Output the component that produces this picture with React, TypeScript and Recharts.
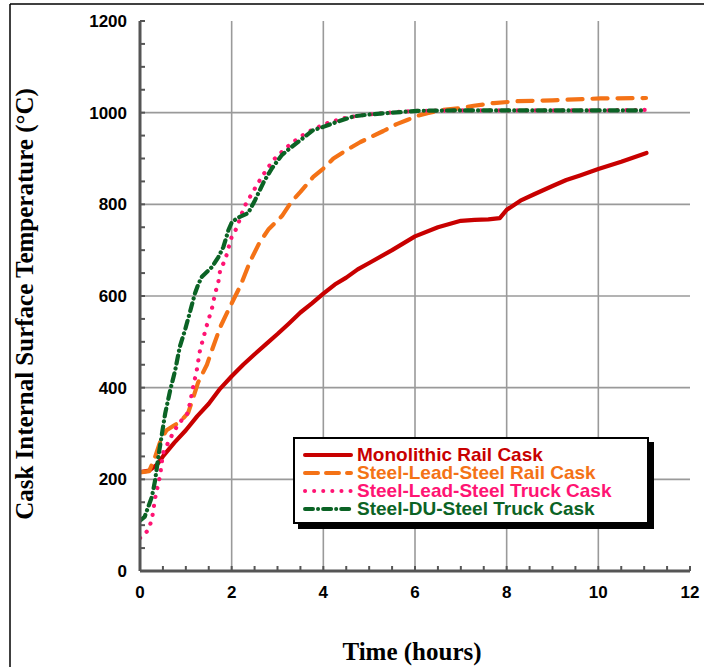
import React from 'react';
import { LineChart, Line, XAxis, YAxis, CartesianGrid, Legend } from 'recharts';

// ---- data ----
const monoHours = [0, 0.2, 0.37, 0.5, 0.75, 1.0, 1.25, 1.5, 1.75, 2.0, 2.25, 2.5, 2.75, 3.0, 3.25, 3.5, 3.75, 4.0, 4.25, 4.5, 4.75, 5.0, 5.5, 6.0, 6.5, 7.0, 7.3, 7.6, 7.85, 8.0, 8.3, 8.6, 9.0, 9.3, 9.6, 10.0, 10.5, 11.05];
const monoTemps = [216, 219, 232, 250, 280, 307, 338, 365, 398, 425, 450, 473, 495, 517, 540, 564, 584, 605, 625, 640, 658, 672, 700, 730, 750, 764, 766, 767, 770, 788, 808, 822, 840, 853, 863, 877, 893, 912];

const slsRailHours = [0, 0.2, 0.33, 0.45, 0.58, 0.75, 0.87, 1.05, 1.15, 1.27, 1.46, 1.57, 1.75, 1.97, 2.19, 2.4, 2.6, 2.8, 3.1, 3.3, 3.5, 3.78, 4.0, 4.22, 4.5, 4.81, 5.0, 5.31, 5.6, 5.83, 6.05, 6.27, 6.62, 7.0, 7.28, 7.72, 8.24, 9.0, 10.05, 11.04];
const slsRailTemps = [215, 218, 249, 285, 307, 318, 325, 345, 375, 412, 450, 482, 532, 578, 622, 675, 715, 745, 775, 805, 827, 860, 878, 900, 918, 936, 945, 960, 975, 984, 993, 999, 1006, 1010, 1015, 1021, 1025, 1027, 1031, 1032];

const slsTruckHours = [0, 0.18, 0.26, 0.33, 0.44, 0.5, 0.61, 0.73, 0.87, 1.02, 1.09, 1.16, 1.24, 1.31, 1.46, 1.57, 1.64, 1.71, 1.75, 1.86, 1.93, 2.0, 2.12, 2.19, 2.3, 2.45, 2.58, 2.73, 2.91, 3.13, 3.34, 3.61, 3.83, 4.09, 4.4, 4.8, 5.3, 5.7, 6.05, 7.0, 8.0, 9.0, 10.0, 11.04];
const slsTruckTemps = [72, 89, 113, 159, 209, 257, 279, 303, 325, 340, 366, 402, 439, 482, 537, 573, 606, 631, 657, 679, 705, 729, 750, 772, 799, 825, 847, 871, 897, 918, 936, 955, 966, 977, 987, 994, 999, 1002, 1004, 1005, 1005, 1005, 1005, 1006];

const duTruckHours = [0, 0.1, 0.18, 0.26, 0.33, 0.4, 0.48, 0.55, 0.66, 0.77, 0.87, 0.98, 1.09, 1.2, 1.27, 1.35, 1.57, 1.71, 1.82, 1.93, 2.0, 2.12, 2.36, 2.51, 2.69, 2.88, 3.1, 3.28, 3.5, 3.78, 4.0, 4.3, 4.66, 5.0, 5.5, 6.05, 7.0, 8.0, 9.0, 10.0, 11.04];
const duTruckTemps = [110, 118, 140, 162, 198, 249, 300, 344, 395, 439, 490, 525, 565, 606, 625, 642, 663, 685, 707, 744, 760, 770, 781, 809, 847, 879, 908, 923, 940, 962, 969, 980, 992, 996, 1000, 1004, 1005, 1005, 1005, 1005, 1005];

const seriesNames = ['Monolithic Rail Cask', 'Steel-Lead-Steel Rail Cask', 'Steel-Lead-Steel Truck Cask', 'Steel-DU-Steel Truck Cask'];

const xTicks = [0, 0.5, 1, 1.5, 2, 2.5, 3, 3.5, 4, 4.5, 5, 5.5, 6, 6.5, 7, 7.5, 8, 8.5, 9, 9.5, 10, 10.5, 11, 11.5, 12];
const xGrid = [2, 4, 6, 8, 10];
const yTicks = [0, 50, 100, 150, 200, 250, 300, 350, 400, 450, 500, 550, 600, 650, 700, 750, 800, 850, 900, 950, 1000, 1050, 1100, 1150, 1200];
const yGrid = [200, 400, 600, 800, 1000];

const xTitle = 'Time (hours)';
const yTitle = 'Cask Internal Surface Temperature (°C)';

// ---- styling ----
const toPoints = (h: number[], t: number[]) => h.map((x, i) => ({ hours: x, temp: t[i] }));

// the first series is bound to the top/right axes (same domains) so those frame axes get ticks
const series = [
  { name: seriesNames[0], data: toPoints(monoHours, monoTemps), color: '#C80000', dash: undefined as string | undefined, width: 4.2, xId: 'top', yId: 'right' },
  { name: seriesNames[1], data: toPoints(slsRailHours, slsRailTemps), color: '#F47216', dash: '15 10', width: 4.2, xId: 'main', yId: 'main' },
  { name: seriesNames[2], data: toPoints(slsTruckHours, slsTruckTemps), color: '#FF1473', dash: '0.1 9', width: 4.2, xId: 'main', yId: 'main' },
  { name: seriesNames[3], data: toPoints(duTruckHours, duTruckTemps), color: '#0B6325', dash: '8 5 0.1 5', width: 4.2, xId: 'main', yId: 'main' },
];

const AX = '#555';
const FONT = '"Liberation Sans", Arial, sans-serif';
const TICK_LEN = 5;
const MARGIN = 13;

const legendDash = ['', '13 8', '0.1 9', '8 5 0.1 5'];

const BottomTick = (props: any) => {
  const { x, y, payload } = props;
  const v = payload.value as number;
  const axisY = y - MARGIN;
  return (
    <g>
      <line x1={x} x2={x} y1={axisY} y2={axisY - TICK_LEN} stroke={AX} strokeWidth={2} />
      {v % 2 === 0 && (
        <text x={x} y={y} dy="0.8em" textAnchor="middle" fill="#000" fontSize={17} fontWeight="bold" fontFamily={FONT}>
          {String(v)}
        </text>
      )}
    </g>
  );
};

const TopTick = (props: any) => {
  const { x, y } = props;
  return <line x1={x} x2={x} y1={y} y2={y + TICK_LEN} stroke={AX} strokeWidth={2} />;
};

const LeftTick = (props: any) => {
  const { x, y, payload } = props;
  const v = payload.value as number;
  const axisX = x + MARGIN;
  return (
    <g>
      <line x1={axisX} x2={axisX + TICK_LEN} y1={y} y2={y} stroke={AX} strokeWidth={2} />
      {v % 200 === 0 && (
        <text x={x} y={y} dy="0.35em" textAnchor="end" fill="#000" fontSize={17} fontWeight="bold" fontFamily={FONT}>
          {String(v)}
        </text>
      )}
    </g>
  );
};

const RightTick = (props: any) => {
  const { x, y } = props;
  return <line x1={x} x2={x - TICK_LEN} y1={y} y2={y} stroke={AX} strokeWidth={2} />;
};

const LegendBox = () => (
  <div
    style={{
      background: '#fff',
      border: '2px solid #000',
      boxShadow: '5px 5px 0 #000',
      width: 356,
      height: 87,
      boxSizing: 'border-box',
      padding: '7px 0 0 7px',
      fontFamily: FONT,
      fontWeight: 'bold',
      fontSize: 19,
      textAlign: 'left',
    }}
  >
    {series.map((s, i) => (
      <div key={s.name} style={{ display: 'flex', alignItems: 'center', height: 18, lineHeight: '18px' }}>
        <svg width={52} height={10} style={{ flex: 'none' }}>
          <line x1={3} x2={49} y1={5} y2={5} stroke={s.color} strokeWidth={4} strokeLinecap="round" strokeDasharray={legendDash[i] || undefined} />
        </svg>
        <span style={{ color: s.color, marginLeft: 3, whiteSpace: 'nowrap' }}>{s.name}</span>
      </div>
    ))}
  </div>
);

export default function App() {
  return (
    <div style={{ position: 'absolute', left: 0, top: 0, width: 704, height: 667, background: '#fff' }}>
      <LineChart width={704} height={667} margin={{ top: 21, right: 14, bottom: 66, left: 40 }}>
        <CartesianGrid
          xAxisId="main"
          yAxisId="main"
          stroke="#9a9a9a"
          strokeWidth={1.6}
          horizontalValues={yGrid}
          verticalValues={xGrid}
        />
        <XAxis
          xAxisId="main"
          dataKey="hours"
          type="number"
          domain={[0, 12]}
          ticks={xTicks}
          interval={0}
          allowDataOverflow
          height={30}
          tickSize={0}
          tickMargin={MARGIN}
          tick={<BottomTick />}
          tickLine={false}
          axisLine={{ stroke: AX, strokeWidth: 3 }}
        />
        <XAxis
          xAxisId="top"
          orientation="top"
          dataKey="hours"
          type="number"
          domain={[0, 12]}
          ticks={xTicks}
          interval={0}
          allowDataOverflow
          height={0}
          tickSize={0}
          tickMargin={0}
          tick={<TopTick />}
          tickLine={false}
          axisLine={{ stroke: AX, strokeWidth: 3 }}
        />
        <YAxis
          yAxisId="main"
          type="number"
          domain={[0, 1200]}
          ticks={yTicks}
          interval={0}
          allowDataOverflow
          width={100}
          tickSize={0}
          tickMargin={MARGIN}
          tick={<LeftTick />}
          tickLine={false}
          axisLine={{ stroke: AX, strokeWidth: 3 }}
        />
        <YAxis
          yAxisId="right"
          orientation="right"
          type="number"
          domain={[0, 1200]}
          ticks={yTicks}
          interval={0}
          allowDataOverflow
          width={0}
          tickSize={0}
          tickMargin={0}
          tick={<RightTick />}
          tickLine={false}
          axisLine={{ stroke: AX, strokeWidth: 3 }}
        />
        {series.map((s) => (
          <Line
            key={s.name}
            xAxisId={s.xId}
            yAxisId={s.yId}
            data={s.data}
            dataKey="temp"
            name={s.name}
            type="linear"
            stroke={s.color}
            strokeWidth={s.width}
            strokeDasharray={s.dash}
            strokeLinecap="round"
            strokeLinejoin="round"
            dot={false}
            activeDot={false}
            isAnimationActive={false}
          />
        ))}
        <Legend
          layout="vertical"
          align="center"
          verticalAlign="middle"
          content={() => <LegendBox />}
          wrapperStyle={{ left: 293, top: 437, width: 356, height: 87 }}
        />
      </LineChart>
      <svg
        width={704}
        height={667}
        style={{ position: 'absolute', left: 0, top: 0, pointerEvents: 'none' }}
      >
        <line x1={10} y1={4} x2={704} y2={4} stroke="#000" strokeWidth={1.5} />
        <line x1={10} y1={4} x2={10} y2={667} stroke="#000" strokeWidth={1.5} />
        <text
          transform="translate(33,304) rotate(-90)"
          textAnchor="middle"
          fontFamily='"Liberation Serif", "Times New Roman", serif'
          fontWeight="bold"
          fontSize={25}
          fill="#000"
        >
          {yTitle}
        </text>
        <text
          x={412}
          y={660}
          textAnchor="middle"
          fontFamily='"Liberation Serif", "Times New Roman", serif'
          fontWeight="bold"
          fontSize={25}
          fill="#000"
        >
          {xTitle}
        </text>
      </svg>
    </div>
  );
}
